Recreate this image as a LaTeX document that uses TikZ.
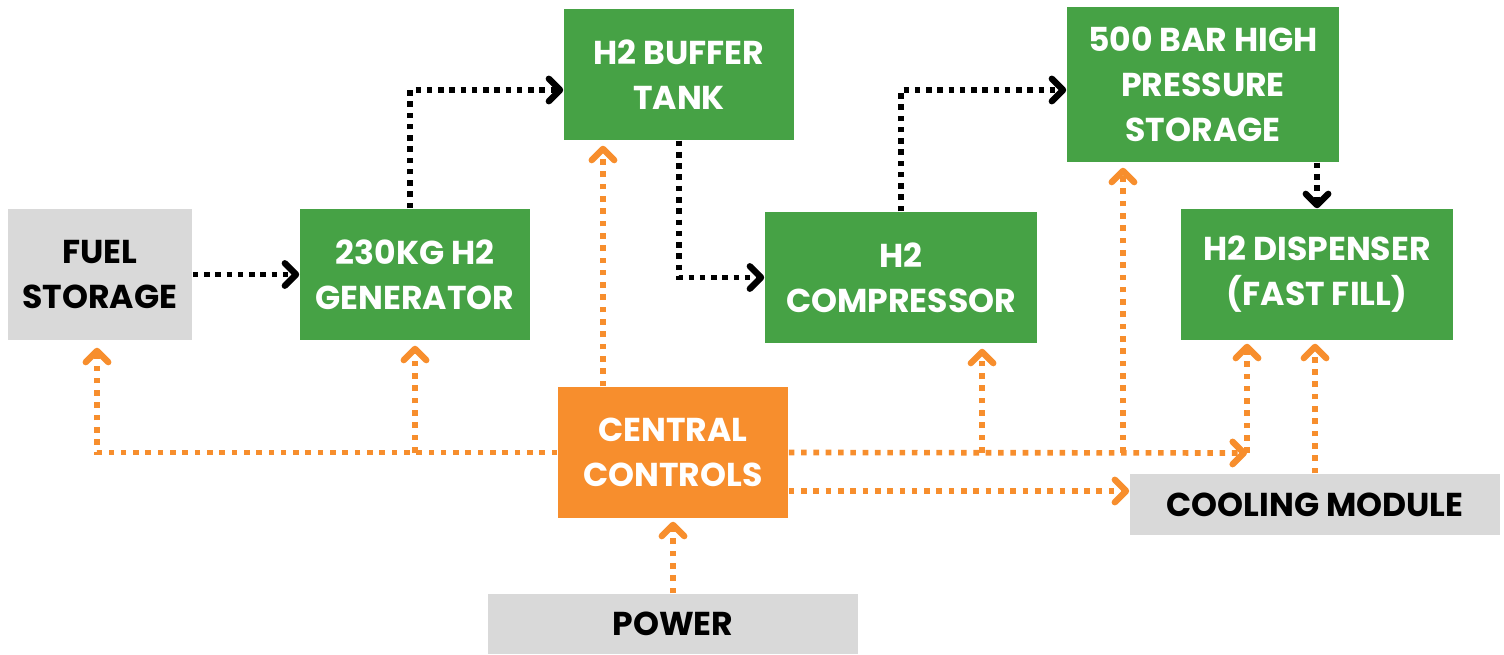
\documentclass[tikz,border=0pt]{standalone}
\usepackage{fontspec}
\setmainfont{Poppins}
\usepackage{xcolor}
\usetikzlibrary{arrows.meta}

\definecolor{boxgreen}{HTML}{46A245}
\definecolor{boxorange}{HTML}{F78E2D}
\definecolor{boxgray}{HTML}{D9D9D9}

\tikzset{
	block/.style	= {rectangle, inner sep=0pt, align=center,
					font=\bfseries\fontsize{9.4}{12.8}\selectfont},
	unit/.style		= {block, fill=boxgreen, text=white},
	ctrlbox/.style	= {block, fill=boxorange, text=white},
	aux/.style		= {block, fill=boxgray, text=black},
	flow/.style		= {line width=1.6pt,
					-{Straight Barb[length=3.2pt, width=6.4pt, line width=1.8pt, round]}},
	gas/.style		= {flow, draw=black, dash pattern=on 1.6pt off 1.6pt},
	signal/.style	= {flow, draw=boxorange, dash pattern=on 1.6pt off 1.9pt}
}

\begin{document}
\begin{tikzpicture}[x=0.01cm, y=-0.01cm]
					%\draw[help lines] (0,0) grid[step=100] (1504,655);
					\useasboundingbox (0,0) rectangle (1504,655);

					% boxes
					\node[aux, minimum width=1.84cm, minimum height=1.31cm] (fuel) at (100,274.5) {FUEL\\STORAGE};
					\node[unit, minimum width=2.30cm, minimum height=1.31cm] (gen) at (415,274.5) {230KG H2\\GENERATOR};
					\node[unit, minimum width=2.30cm, minimum height=1.31cm] (buffer) at (679,74.5) {H2 BUFFER\\TANK};
					\node[unit, minimum width=2.72cm, minimum height=1.31cm] (comp) at (901,277.5) {H2\\COMPRESSOR};
					\node[unit, minimum width=2.72cm, minimum height=1.55cm] (hps) at (1203,84.5) {500 BAR HIGH\\PRESSURE\\STORAGE};
					\node[unit, minimum width=2.72cm, minimum height=1.31cm] (disp) at (1317,274.5) {H2 DISPENSER\\(FAST FILL)};
					\node[ctrlbox, minimum width=2.30cm, minimum height=1.31cm] (ctrl) at (673,452.5) {CENTRAL\\CONTROLS};
					\node[aux, minimum width=3.70cm, minimum height=0.61cm] (cool) at (1315,504.5) {COOLING MODULE};
					\node[aux, minimum width=3.70cm, minimum height=0.60cm] (power) at (673,624) {POWER};

					% hydrogen path
					\draw[gas] (fuel.east) -- (gen.west);
					\draw[gas] ([xshift=-0.05cm]gen.north) |- ([yshift=-0.155cm]buffer.west);
					\draw[gas] (buffer.south) |- (comp.west);
					\draw[gas] (comp.north) |- ([yshift=-0.055cm]hps.west);
					\draw[gas] (disp.north |- hps.south) -- (disp.north);

					% control lines
					\coordinate (corner) at (1247,453);
					\draw[signal, shorten >=0.05cm] ([xshift=-0.7cm]ctrl.north) -- ([xshift=-0.7cm]ctrl.north |- buffer.south);
					\draw[signal, shorten >=0.07cm] (ctrl.west) -| ([xshift=-0.03cm]fuel.south);
					\draw[signal, shorten >=0.05cm] (gen.south |- ctrl.west) -- (gen.south);
					\draw[signal] (ctrl.east) -- (corner);
					\draw[signal, shorten >=0.03cm] (corner) -- (corner |- disp.south);
					\draw[signal, shorten >=0.05cm] ([xshift=0.81cm]comp.south |- ctrl.east) -- ([xshift=0.81cm]comp.south);
					\draw[signal, shorten >=0.05cm] ([xshift=-0.8cm]hps.south |- ctrl.east) -- ([xshift=-0.8cm]hps.south);
					\draw[signal] (ctrl.east |- 0,491) -- (cool.west |- 0,491);
					\draw[signal, shorten >=0.03cm] (cool.north) -- (cool.north |- disp.south);
					\draw[signal, shorten >=0.03cm] (power.north) -- (ctrl.south);
				\end{tikzpicture}
\end{document}
